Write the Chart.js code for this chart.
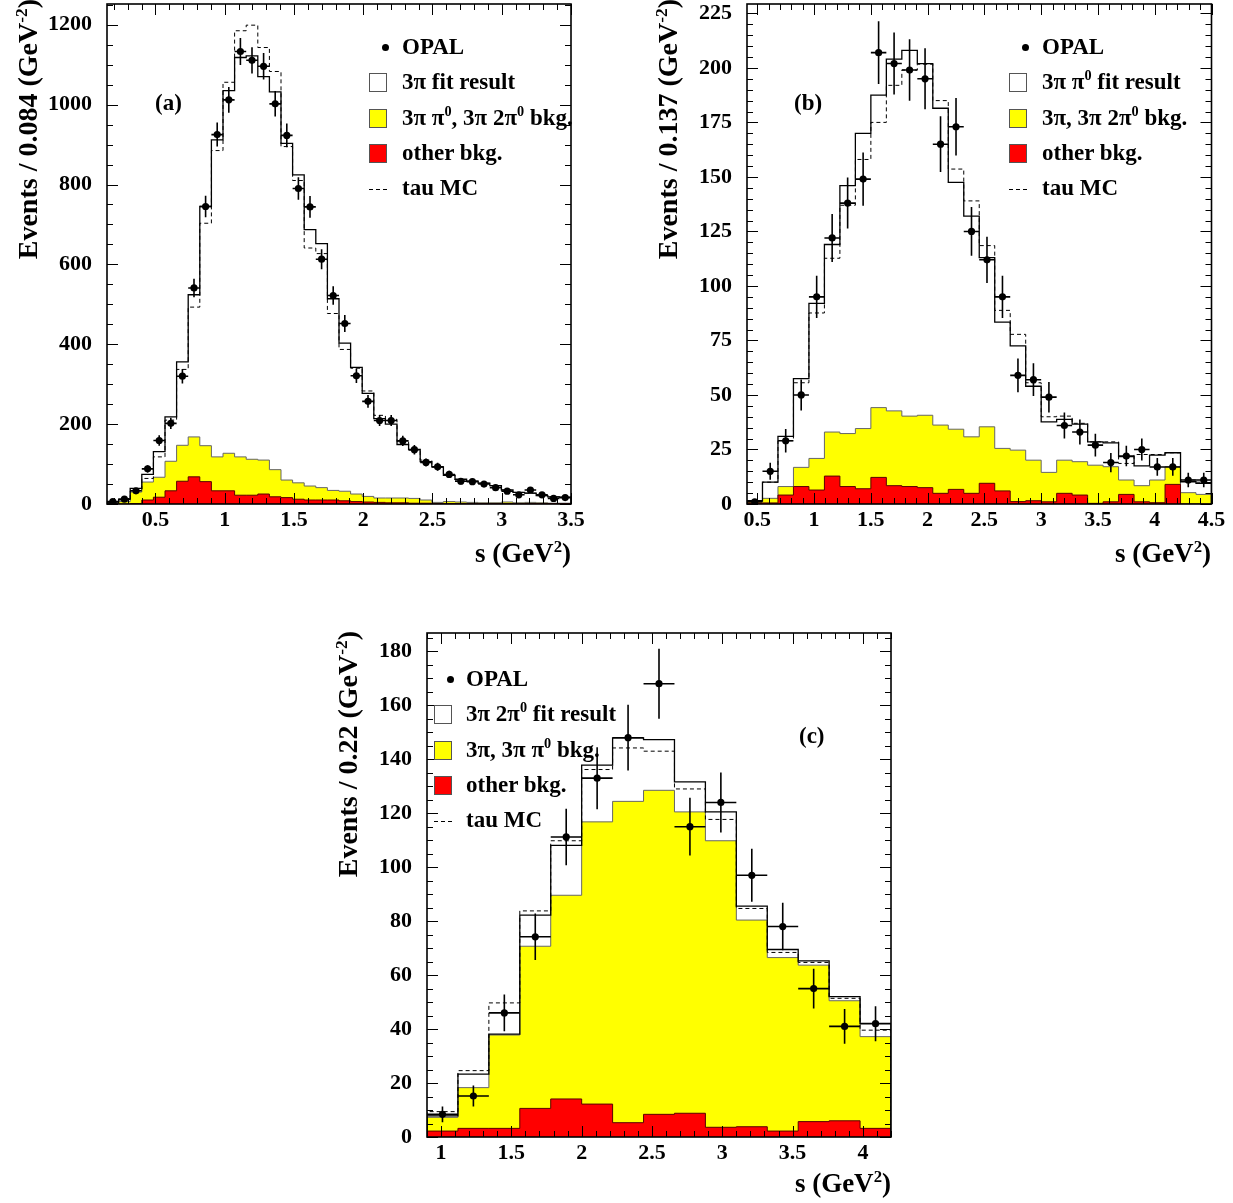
<!DOCTYPE html>
<html lang="en">
<head>
<meta charset="UTF-8">
<title>OPAL tau mass spectra</title>
<script src="https://cdn.jsdelivr.net/npm/chart.js"></script>
<style>
  body { margin: 0; background: #fff; }
  #page {
    position: relative; width: 1233px; height: 1203px; overflow: hidden;
    font-family: 'Liberation Serif', 'Times New Roman', serif; font-weight: bold; color: #000;
  }
  canvas { position: absolute; }
  .txt { position: absolute; white-space: nowrap; font-size: 23px; line-height: 26px; }
  .ytitle {
    position: absolute; width: 320px; text-align: right; font-size: 28px; line-height: 30px;
    white-space: nowrap; transform-origin: 0 0; transform: rotate(-90deg);
  }
  .xtitle { position: absolute; width: 200px; text-align: right; font-size: 27px; line-height: 30px; white-space: nowrap; }
  sup { font-size: 0.62em; vertical-align: 0.6em; line-height: 0; }
  .box { position: absolute; width: 16px; height: 17px; border: 1px solid #555; }
  .dot { position: absolute; width: 7px; height: 7px; border-radius: 50%; background: #000; }
  .dash { position: absolute; width: 18px; height: 1px;
          background: repeating-linear-gradient(90deg, #000 0 4px, transparent 4px 7px); }
</style>
</head>
<body>
<div id="page">
  <canvas id="chartA" width="600" height="580" style="left:0px;top:0px"></canvas>
  <canvas id="chartB" width="593" height="580" style="left:640px;top:0px"></canvas>
  <canvas id="chartC" width="600" height="575" style="left:320px;top:628px"></canvas>

  <div class="ytitle" style="left:13px;top:319px">Events / 0.084 (GeV<sup>-2</sup>)</div>
  <div class="ytitle" style="left:653px;top:319px">Events / 0.137 (GeV<sup>-2</sup>)</div>
  <div class="ytitle" style="left:333px;top:951px">Events / 0.22 (GeV<sup>-2</sup>)</div>

  <div class="xtitle" style="left:371px;top:538px">s (GeV<sup>2</sup>)</div>
  <div class="xtitle" style="left:1011px;top:538px">s (GeV<sup>2</sup>)</div>
  <div class="xtitle" style="left:691px;top:1168px">s (GeV<sup>2</sup>)</div>

  <div class="txt" style="left:155px;top:90px">(a)</div>
  <div class="txt" style="left:794px;top:90px">(b)</div>
  <div class="txt" style="left:799px;top:723px">(c)</div>
</div>

<script>
// ---------- panel (a): 3pi ----------
const aLo = 0.15, aBinW = 0.08375;
const aData = [6, 12, 33, 88, 159, 202, 320, 541, 745, 925, 1012, 1133, 1111, 1096, 1002, 923, 790, 744, 613, 522,
               452, 321, 257, 209, 209, 158, 136, 104, 93, 74, 57, 56, 50, 41, 32, 23, 35, 23, 14, 16];
const aErr  = [2, 4, 6, 9, 13, 14, 18, 23, 27, 30, 32, 34, 33, 33, 32, 30, 28, 27, 25, 23,
               21, 18, 16, 14, 14, 13, 12, 10, 10, 9, 8, 7, 7, 6, 6, 5, 6, 5, 4, 4];
const aFit  = [3, 12, 39, 74, 131, 218, 356, 524, 745, 912, 1035, 1118, 1122, 1070, 1032, 903, 824, 687, 652, 514,
               403, 342, 277, 214, 200, 149, 137, 106, 93, 72, 62, 57, 52, 46, 35, 29, 27, 21, 18, 17];
const aMC   = [3, 10, 33, 64, 118, 210, 337, 493, 703, 885, 1056, 1185, 1199, 1143, 1083, 895, 810, 641, 627, 477,
               387, 340, 283, 222, 212, 156, 135, 110, 93, 72, 60, 57, 52, 46, 35, 29, 27, 21, 18, 17];
const aBkg  = [1, 6, 30, 55, 67, 107, 147, 168, 146, 118, 127, 118, 112, 110, 86, 60, 53, 45, 41, 34,
               32, 25, 19, 15, 15, 15, 14, 10, 4, 6, 5, 4, 3, 3, 5, 3, 4, 3, 2, 2];
const aOther = [0, 0, 1, 10, 17, 33, 57, 68, 56, 33, 33, 22, 22, 25, 18, 16, 12, 10, 10, 10,
                8, 6, 5, 4, 3, 3, 2, 2, 1, 1, 1, 1, 1, 1, 1, 1, 1, 1, 1, 1];
const aXTicks = [0.5, 1, 1.5, 2, 2.5, 3, 3.5];
const aYTicks = [0, 200, 400, 600, 800, 1000, 1200];

// ---------- panel (b): 3pi pi0 ----------
const bLo = 0.41, bBinW = 0.13633;
const bData = [1, 15, 29, 50, 95, 122, 138, 149, 207, 202, 199, 195, 165, 173, 125, 112, 95, 59, 57, 49,
               36, 33, 27, 19, 22, 25, 17, 17, 11, 11];
const bErr  = [1, 3.9, 5.4, 7.1, 9.7, 11, 11.7, 12.2, 14.4, 14.2, 14.1, 14, 12.8, 13.2, 11.2, 10.6, 9.7, 7.7, 7.5, 7,
               6, 5.7, 5.2, 4.4, 4.7, 5, 4.1, 4.1, 3.3, 3.3];
const bFit  = [1.5, 10, 31, 57.5, 92, 119, 146, 170, 187.5, 204, 208, 202, 181.5, 147.5, 132, 113, 83.4, 72.5, 54, 37.7,
               38.8, 36.6, 28.5, 28, 21.7, 17.5, 22.4, 23.5, 10.2, 9.5];
const bMC   = [1.5, 10, 29, 55.6, 87.6, 112.7, 137, 158, 175, 192, 199, 201.7, 185, 153.6, 139, 118.5, 88.8, 77.8, 55.6, 40,
               40.3, 37, 28.5, 28.5, 18.6, 22.7, 22.7, 23.5, 11, 10];
const bBkg  = [1, 2.6, 8, 16.8, 20.9, 33, 32.3, 34.6, 44.2, 42.7, 40.3, 40.7, 36.2, 34.3, 30.8, 35.4, 25.5, 24.7, 20.1, 14.5,
               20.1, 19.4, 17.8, 17.1, 11, 8.4, 11, 17.1, 5.2, 4.4];
const bOther = [0.5, 0.5, 4.1, 8, 6.4, 12.8, 8, 7, 12.2, 8.4, 8, 7.5, 4.9, 6.7, 4.9, 9.5, 6, 1.1, 1.5, 1,
                4.9, 4.1, 0.3, 1, 4.4, 1, 0.6, 9, 0, 0];
const bXTicks = [0.5, 1, 1.5, 2, 2.5, 3, 3.5, 4, 4.5];
const bYTicks = [0, 25, 50, 75, 100, 125, 150, 175, 200, 225];

// ---------- panel (c): 3pi 2pi0 ----------
const cLo = 0.9, cBinW = 0.22;
const cData = [8.4, 15.2, 46, 74.2, 111.2, 133, 148, 168, 115, 124, 97, 78, 55, 41, 42];
const cErr  = [2.9, 3.9, 6.8, 8.6, 10.5, 11.5, 12.2, 13, 10.7, 11.1, 9.8, 8.8, 7.4, 6.4, 6.5];
const cFit  = [7.8, 23.3, 38.1, 82.2, 108.1, 137.8, 147.9, 147.3, 131.6, 120.5, 85.6, 69.5, 65.3, 52, 42.1];
const cMC   = [9.4, 24.6, 49.7, 83.8, 109.8, 136.2, 144.2, 143, 129, 117.7, 84.7, 68.4, 64.7, 51.4, 39.6];
const cBkg  = [7.3, 18.3, 37.8, 70.7, 89.6, 116.8, 124.4, 128.5, 120.5, 109.8, 80.4, 66.5, 63.7, 50.5, 37.2];
const cOther = [2.2, 3.2, 3.2, 10.6, 14.1, 12.2, 5.3, 8.4, 8.8, 3.6, 3.8, 2.2, 5.7, 6, 3.2];
const cXTicks = [1, 1.5, 2, 2.5, 3, 3.5, 4];
const cYTicks = [0, 20, 40, 60, 80, 100, 120, 140, 160, 180];

Chart.defaults.font.family = "'Liberation Serif', 'Times New Roman', serif";
Chart.defaults.font.weight = 'bold';
Chart.defaults.font.size = 22;
Chart.defaults.color = '#000';

// histogram outline: points at the bin edges, closed down to zero at both ends
function steps(lo, w, vals) {
  const hi = lo + vals.length * w;
  const pts = vals.map((v, i) => ({ x: lo + i * w, y: v }));
  pts.unshift({ x: lo, y: 0 });
  pts.push({ x: hi, y: vals[vals.length - 1] }, { x: hi, y: 0 });
  return pts;
}
function centers(lo, w, vals) {
  return vals.map((v, i) => ({ x: lo + (i + 0.5) * w, y: v }));
}

const errorBars = {
  id: 'errorBars',
  afterDatasetsDraw(chart) {
    const { ctx, chartArea: a, scales: { x, y } } = chart;
    ctx.save();
    ctx.beginPath();
    ctx.rect(a.left, a.top, a.right - a.left, a.bottom - a.top);
    ctx.clip();
    ctx.strokeStyle = '#000';
    ctx.lineWidth = 1.6;
    chart.data.datasets.forEach(ds => {
      if (!ds.errY) return;
      ds.data.forEach((p, i) => {
        const px = x.getPixelForValue(p.x), py = y.getPixelForValue(p.y);
        ctx.beginPath();
        ctx.moveTo(px, y.getPixelForValue(p.y - ds.errY[i]));
        ctx.lineTo(px, y.getPixelForValue(p.y + ds.errY[i]));
        ctx.moveTo(x.getPixelForValue(p.x - ds.binW / 2), py);
        ctx.lineTo(x.getPixelForValue(p.x + ds.binW / 2), py);
        ctx.stroke();
      });
    });
    ctx.restore();
  }
};

// ROOT style frame with inward ticks on all four sides
const rootFrame = {
  id: 'rootFrame',
  afterDraw(chart, args, o) {
    const { ctx, chartArea: a, scales: { x, y } } = chart;
    ctx.save();
    ctx.strokeStyle = '#000';
    ctx.lineWidth = 1;
    const isMajor = (v, m) => Math.abs(v / m - Math.round(v / m)) < 1e-6;
    ctx.beginPath();
    for (let v = Math.ceil(x.min / o.xMinor - 1e-6) * o.xMinor; v <= x.max + 1e-6; v += o.xMinor) {
      const px = Math.round(x.getPixelForValue(v)) + 0.5;
      const L = isMajor(v, o.xMajor) ? 11 : 6;
      ctx.moveTo(px, a.bottom); ctx.lineTo(px, a.bottom - L);
      ctx.moveTo(px, a.top); ctx.lineTo(px, a.top + L);
    }
    for (let v = Math.ceil(y.min / o.yMinor - 1e-6) * o.yMinor; v <= y.max + 1e-6; v += o.yMinor) {
      const py = Math.round(y.getPixelForValue(v)) + 0.5;
      const L = isMajor(v, o.yMajor) ? 11 : 6;
      ctx.moveTo(a.left, py); ctx.lineTo(a.left + L, py);
      ctx.moveTo(a.right, py); ctx.lineTo(a.right - L, py);
    }
    ctx.stroke();
    ctx.lineWidth = 1.6;
    ctx.strokeRect(a.left, a.top, a.right - a.left, a.bottom - a.top);
    ctx.restore();
  }
};

function makePanel(id, p) {
  return new Chart(document.getElementById(id), {
    type: 'line',
    data: {
      datasets: [
        { label: 'OPAL', data: centers(p.lo, p.w, p.data), errY: p.err, binW: p.w, showLine: false,
          pointRadius: 3.6, pointBackgroundColor: '#000', pointBorderColor: '#000', pointBorderWidth: 0 },
        { label: 'fit result', data: steps(p.lo, p.w, p.fit), stepped: true, borderColor: '#000',
          borderWidth: 1.3, pointRadius: 0, fill: false },
        { label: 'tau MC', data: steps(p.lo, p.w, p.mc), stepped: true, borderColor: '#000',
          borderWidth: 1, borderDash: [4, 3], pointRadius: 0, fill: false },
        { label: 'other bkg.', data: steps(p.lo, p.w, p.other), stepped: true, borderColor: '#5a0000',
          borderWidth: 1, backgroundColor: '#ff0000', fill: 'origin', pointRadius: 0 },
        { label: 'bkg', data: steps(p.lo, p.w, p.bkg), stepped: true, borderColor: '#666',
          borderWidth: 1, backgroundColor: '#ffff00', fill: 'origin', pointRadius: 0 }
      ]
    },
    options: {
      responsive: false,
      animation: false,
      events: [],
      layout: { padding: { top: p.padTop, right: p.padRight, left: 0, bottom: 0 } },
      plugins: {
        legend: { display: false },
        tooltip: { enabled: false },
        rootFrame: { xMinor: 0.1, xMajor: 0.5, yMinor: p.yMinor, yMajor: p.yMajor }
      },
      scales: {
        x: {
          type: 'linear', min: p.xMin, max: p.xMax,
          grid: { display: false }, border: { display: false },
          afterBuildTicks: s => { s.ticks = p.xTicks.map(v => ({ value: v })); },
          afterFit: s => { s.height = p.xAxisH; s.paddingLeft = 0; s.paddingRight = 0; },
          ticks: { padding: -5, maxRotation: 0, autoSkip: false, callback: v => String(v) }
        },
        y: {
          type: 'linear', min: 0, max: p.yMax,
          grid: { display: false }, border: { display: false },
          afterBuildTicks: s => { s.ticks = p.yTicks.map(v => ({ value: v })); },
          afterFit: s => { s.width = 107; s.paddingTop = 0; s.paddingBottom = 0; },
          ticks: { padding: 7, autoSkip: false, callback: v => String(v) }
        }
      }
    },
    plugins: [errorBars, rootFrame]
  });
}

makePanel('chartA', { lo: aLo, w: aBinW, data: aData, err: aErr, fit: aFit, mc: aMC, bkg: aBkg, other: aOther,
  xTicks: aXTicks, yTicks: aYTicks, xMin: 0.15, xMax: 3.5, yMax: 1252, yMinor: 50, yMajor: 200,
  padTop: 3, padRight: 29, xAxisH: 76 });
makePanel('chartB', { lo: bLo, w: bBinW, data: bData, err: bErr, fit: bFit, mc: bMC, bkg: bBkg, other: bOther,
  xTicks: bXTicks, yTicks: bYTicks, xMin: 0.41, xMax: 4.5, yMax: 229.3, yMinor: 5, yMajor: 25,
  padTop: 3, padRight: 21.5, xAxisH: 76 });
makePanel('chartC', { lo: cLo, w: cBinW, data: cData, err: cErr, fit: cFit, mc: cMC, bkg: cBkg, other: cOther,
  xTicks: cXTicks, yTicks: cYTicks, xMin: 0.9, xMax: 4.2, yMax: 186.8, yMinor: 5, yMajor: 20,
  padTop: 5, padRight: 29, xAxisH: 66 });

// legends, drawn as html next to each frame
function legend(boxLeft, textLeft, firstY, labels) {
  const page = document.getElementById('page');
  const add = (cls, style, html) => {
    const d = document.createElement('div');
    d.className = cls;
    d.style.cssText = style;
    if (html) d.innerHTML = html;
    page.appendChild(d);
  };
  const fills = [null, '#ffffff', '#ffff00', '#ff0000', null];
  labels.forEach((lab, i) => {
    const cy = firstY + i * 35.3;
    if (i === 0) add('dot', `left:${boxLeft + 13}px;top:${cy - 3.5}px`);
    else if (i === 4) add('dash', `left:${boxLeft}px;top:${cy + 1}px`);
    else add('box', `left:${boxLeft}px;top:${cy - 9}px;background:${fills[i]}`);
    add('txt', `left:${textLeft}px;top:${cy - 13}px`, lab);
  });
}
legend(369, 402, 47, ['OPAL', '3&pi; fit result', '3&pi; &pi;<sup>0</sup>, 3&pi; 2&pi;<sup>0</sup> bkg.', 'other bkg.', 'tau MC']);
legend(1009, 1042, 47, ['OPAL', '3&pi; &pi;<sup>0</sup> fit result', '3&pi;, 3&pi; 2&pi;<sup>0</sup> bkg.', 'other bkg.', 'tau MC']);
legend(434, 466, 679, ['OPAL', '3&pi; 2&pi;<sup>0</sup> fit result', '3&pi;, 3&pi; &pi;<sup>0</sup> bkg.', 'other bkg.', 'tau MC']);
</script>
</body>
</html>
